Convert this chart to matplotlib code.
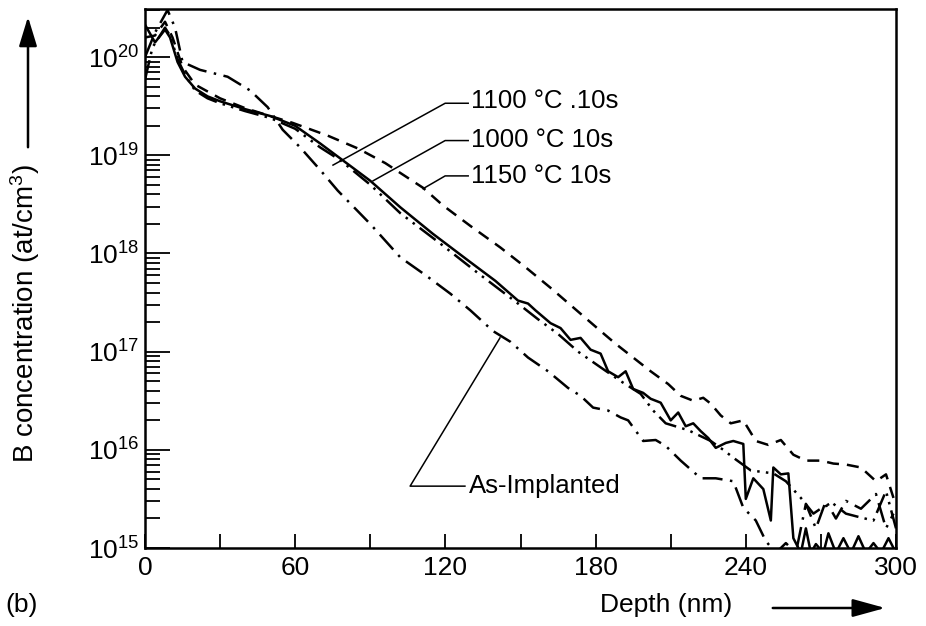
import numpy as np
import matplotlib
matplotlib.use("Agg")
import matplotlib.pyplot as plt
from matplotlib.patches import FancyArrowPatch
from matplotlib.ticker import LogLocator, FixedLocator, NullFormatter, FuncFormatter

plt.rcParams["font.family"] = ["Liberation Sans", "DejaVu Sans"]
plt.rcParams["mathtext.fontset"] = "custom"
plt.rcParams["mathtext.rm"] = "Liberation Sans"
plt.rcParams["mathtext.it"] = "Liberation Sans"

# depth (nm) and log10 of B concentration
x_1000 = [0, 4, 8, 10, 13, 16, 20, 25, 30, 40, 50, 60, 70, 80, 90, 102, 115, 129,
          140, 149, 153, 156, 162, 166, 170, 174, 178, 182, 185, 189, 192, 195,
          199, 202, 206, 210, 213, 216, 219, 222, 225, 228, 232, 235, 239, 240,
          243, 247, 250, 251, 254, 257, 259, 262, 264, 266, 268, 271, 273, 276,
          279, 282, 285, 288, 291, 294, 297, 300]
c_1000 = [20.33, 20.15, 20.28, 20.2, 19.95, 19.8, 19.68, 19.6, 19.55, 19.47, 19.4,
          19.3, 19.12, 18.93, 18.74, 18.47, 18.2, 17.93, 17.72, 17.52, 17.49, 17.42,
          17.29, 17.24, 17.12, 17.14, 17.02, 16.98, 16.8, 16.74, 16.8, 16.62, 16.58,
          16.52, 16.48, 16.3, 16.38, 16.24, 16.27, 16.19, 16.12, 16.02, 16.07, 16.09,
          16.06, 15.5, 15.71, 15.6, 15.28, 15.82, 15.75, 15.76, 15.1, 14.95, 15.2,
          14.95, 15.04, 14.95, 15.15, 14.95, 15.1, 14.95, 15.12, 14.95, 15.05, 14.95,
          15.1, 14.95]

x_1100 = [0, 3, 8, 10, 13, 16, 20, 25, 30, 40, 50, 60, 70, 78, 90, 102, 118, 133,
          149, 157, 165, 173, 182, 190, 198, 203, 208, 217, 226, 231, 235, 242,
          251, 256, 262, 267, 271, 275, 280, 286, 291, 296, 300]
c_1100 = [19.77, 20.1, 20.3, 20.22, 19.98, 19.82, 19.66, 19.58, 19.53, 19.45, 19.38,
          19.27, 19.08, 18.95, 18.7, 18.41, 18.1, 17.8, 17.49, 17.33, 17.18, 17.0,
          16.84, 16.7, 16.57, 16.4, 16.27, 16.2, 16.09, 16.0, 15.92, 15.79, 15.76,
          15.68, 15.51, 15.35, 15.42, 15.45, 15.35, 15.31, 15.28, 15.58, 15.2]

x_1150 = [0, 4, 8, 11, 15, 20, 30, 40, 50, 59, 73, 85, 96, 111, 119, 130, 142, 152,
          162, 172, 182, 188, 195, 202, 209, 214, 219, 223, 226, 230, 234, 239,
          244, 249, 254, 259, 264, 270, 275, 280, 286, 292, 296, 299]
c_1150 = [20.2, 20.22, 20.36, 20.2, 19.9, 19.72, 19.58, 19.48, 19.4, 19.33, 19.2,
          19.07, 18.92, 18.67, 18.49, 18.28, 18.06, 17.86, 17.65, 17.43, 17.21,
          17.08, 16.94, 16.8, 16.67, 16.55, 16.5, 16.53, 16.47, 16.35, 16.27, 16.3,
          16.09, 16.05, 16.1, 15.95, 15.89, 15.89, 15.86, 15.85, 15.82, 15.68,
          15.75, 15.51]

x_asimp = [0, 4, 9, 12, 15, 22, 33, 42, 49, 55, 62, 70, 77, 90, 102, 112, 122, 130,
           139, 146, 153, 161, 169, 174, 179, 185, 190, 193, 199, 204, 208, 214,
           218, 222, 228, 235, 239, 244, 248, 252, 256, 260, 264, 268, 272, 276,
           280, 286, 292, 296, 299]
c_asimp = [20.0, 20.25, 20.48, 20.3, 19.95, 19.87, 19.8, 19.66, 19.49, 19.26, 19.08,
           18.85, 18.64, 18.3, 17.96, 17.78, 17.59, 17.42, 17.21, 17.1, 16.94, 16.8,
           16.63, 16.55, 16.43, 16.4, 16.33, 16.3, 16.09, 16.1, 16.04, 15.89, 15.8,
           15.71, 15.71, 15.68, 15.41, 15.28, 15.07, 14.95, 15.05, 14.95, 15.45,
           15.2, 15.48, 15.3, 15.48, 15.4, 15.55, 15.2, 15.35]

x_ticks = [0, 60, 120, 180, 240, 300]
x_minor = [30, 90, 150, 210, 270]

W, H = 926, 626
FS = 19
fig = plt.figure(figsize=(W / 100, H / 100), dpi=100)
ax = fig.add_axes([145 / W, 1 - 548 / H, 751 / W, 539 / H])

lw = 1.8
ax.plot(x_1000, 10 ** np.array(c_1000), color="black", lw=lw, ls="-")
ax.plot(x_1100, 10 ** np.array(c_1100), color="black", lw=lw,
        ls=(0, (8, 2.5, 1, 2.5, 1, 2.5)))
ax.plot(x_1150, 10 ** np.array(c_1150), color="black", lw=lw, ls=(0, (4.8, 3.2)))
ax.plot(x_asimp, 10 ** np.array(c_asimp), color="black", lw=lw,
        ls=(0, (8, 3, 1, 3)))

ax.set_yscale("log")
ax.set_xlim(0, 300)
ax.set_ylim(1e15, 10 ** 20.49)
ax.xaxis.set_major_locator(FixedLocator(x_ticks))
ax.xaxis.set_minor_locator(FixedLocator(x_minor))
ax.yaxis.set_major_locator(LogLocator(base=10, numticks=10))
ax.yaxis.set_minor_locator(LogLocator(base=10, subs=np.arange(2, 10), numticks=10))
ax.yaxis.set_minor_formatter(NullFormatter())
ax.yaxis.set_major_formatter(FuncFormatter(lambda v, p: r"$10^{%d}$" % round(np.log10(v))))
ax.tick_params(which="both", direction="in", top=False, right=False, width=1.3,
               labelsize=FS, colors="black")
ax.tick_params(axis="y", which="major", length=18, pad=4)
ax.tick_params(axis="y", which="minor", length=11)
ax.tick_params(axis="x", which="both", length=10, pad=6)
for s in ax.spines.values():
    s.set_linewidth(1.8)

# curve labels with leader lines
leader_kw = dict(color="black", lw=1.1)
ax.plot([75.1, 119.9, 129.1], [10 ** 18.90, 10 ** 19.53, 10 ** 19.53], **leader_kw)
ax.plot([91.1, 119.9, 129.1], [10 ** 18.74, 10 ** 19.15, 10 ** 19.15], **leader_kw)
ax.plot([111.1, 119.9, 129.1], [10 ** 18.66, 10 ** 18.79, 10 ** 18.79], **leader_kw)
ax.plot([141.8, 105.9, 127.8], [10 ** 17.14, 10 ** 15.63, 10 ** 15.63], **leader_kw)
lab_kw = dict(fontsize=18.5, va="center", ha="left")
ax.text(130.4, 10 ** 19.55, "1100 °C .10s", **lab_kw)
ax.text(130.4, 10 ** 19.16, "1000 °C 10s", **lab_kw)
ax.text(130.4, 10 ** 18.79, "1150 °C 10s", **lab_kw)
ax.text(129.6, 10 ** 15.63, "As-Implanted", **lab_kw)

# axis labels with arrows
fig.text(25 / W, 1 - 313 / H, "B concentration (at/cm$^3$)", rotation=90,
         ha="center", va="center", fontsize=20)
fig.patches.append(FancyArrowPatch(
    (28 / W, 1 - 150 / H), (28 / W, 1 - 14 / H), transform=fig.transFigure,
    arrowstyle="-|>,head_length=18,head_width=5.5", lw=1.8, color="black",
    mutation_scale=1))
fig.text(600 / W, 1 - 605 / H, "Depth (nm)", ha="left", va="center", fontsize=FS)
fig.text(5 / W, 1 - 605 / H, "(b)", ha="left", va="center", fontsize=FS)
fig.patches.append(FancyArrowPatch(
    (770 / W, 1 - 608 / H), (888 / W, 1 - 608 / H), transform=fig.transFigure,
    arrowstyle="-|>,head_length=20,head_width=5.5", lw=1.8, color="black",
    mutation_scale=1))

fig.savefig("out.png", dpi=100)
